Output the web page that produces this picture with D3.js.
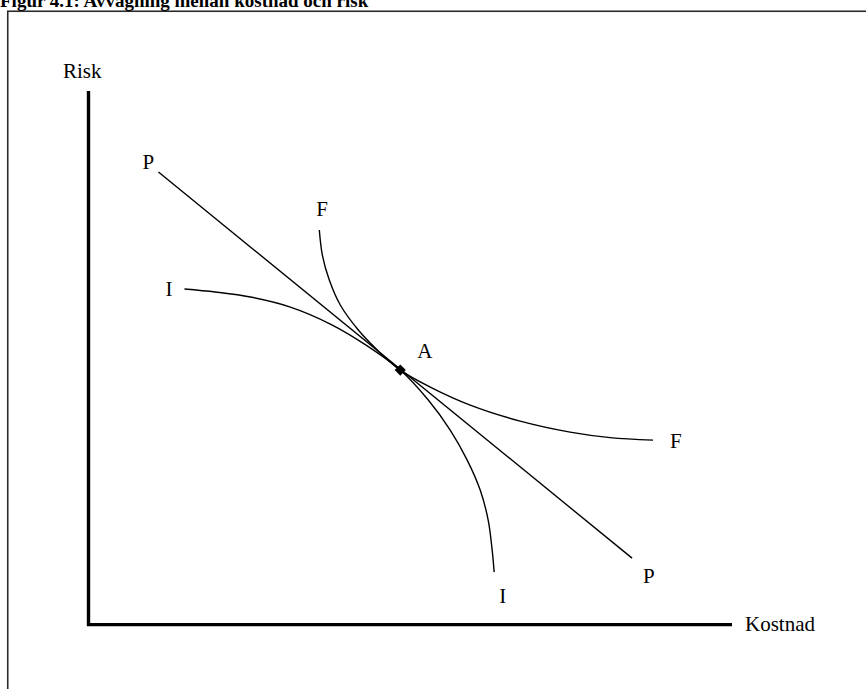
<!DOCTYPE html>
<html>
<head>
<meta charset="utf-8">
<script src="https://cdn.jsdelivr.net/npm/d3@7"></script>
<style>
  html, body { margin: 0; padding: 0; background: #fff; }
  svg { display: block; }
</style>
</head>
<body>
<svg id="chart" width="866" height="689"></svg>
<script>
// ---- data (abstract units: Kostnad 0-100, Risk 0-100) ----
const titleText = "Figur 4.1: Avvägning mellan kostnad och risk";
const axisLabels = { y: "Risk", x: "Kostnad" };

// P: straight line (price/trade-off line)
const lineP = [[10.87, 84.82], [84.47, 12.46]];

// I: concave curve
const curveI = [
  [14.91, 62.89], [19.72, 62.32], [25.16, 61.39], [31.37, 59.51],
  [37.58, 56.33], [43.01, 52.48], [48.45, 47.70], [52.80, 42.08],
  [56.21, 36.46], [58.85, 30.83], [60.87, 25.21], [62.11, 19.59],
  [62.73, 13.96], [63.04, 9.84]
];

// F: convex curve
const curveF = [
  [35.87, 73.95], [36.34, 69.26], [37.42, 64.57], [39.13, 59.89],
  [41.93, 55.20], [44.88, 51.45], [48.45, 47.70], [53.11, 44.52],
  [59.32, 41.14], [67.08, 38.14], [74.84, 36.08], [81.06, 35.05],
  [87.73, 34.58]
];

// A: tangency point
const pointA = [48.45, 47.70];

// ---- drawing ----
const svg = d3.select("#chart");
const serif = "'Liberation Serif', 'Times New Roman', Times, serif";

const x = d3.scaleLinear().domain([0, 100]).range([88.5, 732]);
const y = d3.scaleLinear().domain([0, 100]).range([624.6, 91]);

// frame
svg.append("rect")
  .attr("x", 7.75).attr("y", 11.25)
  .attr("width", 900).attr("height", 720)
  .attr("fill", "none")
  .attr("stroke", "#2a2a2a")
  .attr("stroke-width", 1.6);

// title (partly clipped at top as in original)
svg.append("text")
  .attr("x", 0).attr("y", 7)
  .attr("font-family", serif)
  .attr("font-weight", "bold")
  .attr("font-size", 19)
  .attr("fill", "#000")
  .text(titleText);

// axes
const axisPath = d3.line()([[x(0), y(100)], [x(0), y(0)], [x(100), y(0)]]);
svg.append("path")
  .attr("d", axisPath)
  .attr("fill", "none")
  .attr("stroke", "#000")
  .attr("stroke-width", 3.4)
  .attr("stroke-linejoin", "miter");

svg.append("text")
  .attr("x", 63).attr("y", 78)
  .attr("font-family", serif).attr("font-size", 21)
  .text(axisLabels.y);

svg.append("text")
  .attr("x", 745).attr("y", 631)
  .attr("font-family", serif).attr("font-size", 21)
  .text(axisLabels.x);

// curves
const smooth = d3.line()
  .x(d => x(d[0])).y(d => y(d[1]))
  .curve(d3.curveCatmullRom.alpha(0.5));
const straight = d3.line().x(d => x(d[0])).y(d => y(d[1]));

const series = [
  { name: "P", pts: lineP, gen: straight, start: [-16, -3], end: [11, 25] },
  { name: "I", pts: curveI, gen: smooth, start: [-19, 7], end: [5, 31] },
  { name: "F", pts: curveF, gen: smooth, start: [-3, -14], end: [17, 8] }
];

series.forEach(s => {
  svg.append("path")
    .attr("d", s.gen(s.pts))
    .attr("fill", "none")
    .attr("stroke", "#000")
    .attr("stroke-width", 1.4);
  const a = s.pts[0], b = s.pts[s.pts.length - 1];
  svg.append("text")
    .attr("x", x(a[0]) + s.start[0]).attr("y", y(a[1]) + s.start[1])
    .attr("font-family", serif).attr("font-size", 21)
    .text(s.name);
  svg.append("text")
    .attr("x", x(b[0]) + s.end[0]).attr("y", y(b[1]) + s.end[1])
    .attr("font-family", serif).attr("font-size", 21)
    .text(s.name);
});

// point A
svg.append("path")
  .attr("d", d3.symbol(d3.symbolSquare, 62)())
  .attr("transform", `translate(${x(pointA[0])},${y(pointA[1])}) rotate(45)`)
  .attr("fill", "#000");

svg.append("text")
  .attr("x", x(pointA[0]) + 17).attr("y", y(pointA[1]) - 12)
  .attr("font-family", serif).attr("font-size", 21)
  .text("A");
</script>
</body>
</html>
